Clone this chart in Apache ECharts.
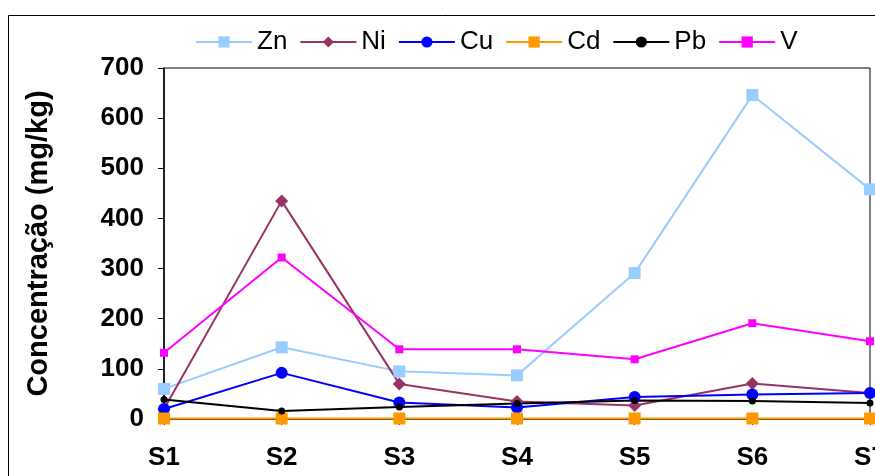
<!DOCTYPE html>
<html>
<head>
<meta charset="utf-8">
<script src="https://cdn.jsdelivr.net/npm/echarts@6/dist/echarts.min.js"></script>
<style>
html,body{margin:0;padding:0;background:#fff;}
#chart{width:875px;height:476px;}
</style>
</head>
<body>
<div id="chart"></div>
<script>
const categories = ['S1','S2','S3','S4','S5','S6','S7'];
const zn = [60, 143, 95, 87, 291, 646, 458];
const ni = [20, 435, 70, 35, 27, 71, 52];
const cu = [20, 92, 33, 23, 44, 49, 52];
const cd = [1, 1, 1, 1, 1, 1, 1];
const pb = [39, 16, 24, 31, 37, 36, 32];
const v = [132, 322, 139, 139, 119, 191, 155];
const yTicks = [0, 700, 100];
const yTitle = 'Concentração (mg/kg)';

const FONT = '"Liberation Sans", Arial, sans-serif';

function mk(name, data, color, symbol, size) {
  return {
    name: name, type: 'line', data: data,
    symbol: symbol, symbolSize: size,
    lineStyle: {color: color, width: 2},
    itemStyle: {color: color},
    emphasis: {disabled: true},
    animation: false
  };
}

const chart = echarts.init(document.getElementById('chart'), null, {renderer: 'canvas'});
chart.setOption({
  backgroundColor: '#fff',
  animation: false,
  textStyle: {fontFamily: FONT},
  graphic: [{
    type: 'rect', silent: true, z: -1,
    shape: {x: 8.5, y: 15.5, width: 900, height: 500},
    style: {fill: 'none', stroke: '#000', lineWidth: 1}
  }],
  legend: {
    left: 190, top: 24,
    itemWidth: 56, itemHeight: 14, itemGap: 12,
    textStyle: {fontSize: 26, color: '#000', fontFamily: FONT},
    data: ['Zn','Ni','Cu','Cd','Pb','V']
  },
  grid: {left: 164, right: 5, top: 68, bottom: 57, outerBoundsMode: 'none', containLabel: false,
         show: true, borderColor: '#000', borderWidth: 1, backgroundColor: 'transparent'},
  xAxis: {
    type: 'category', data: categories, boundaryGap: false,
    axisLine: {lineStyle: {color: '#000', width: 1.5}},
    axisTick: {show: true, length: 6, lineStyle: {color: '#000'}},
    axisLabel: {fontSize: 26, fontWeight: 'bold', color: '#000', margin: 26, fontFamily: FONT}
  },
  yAxis: {
    type: 'value', min: yTicks[0], max: yTicks[1], interval: yTicks[2],
    name: yTitle, nameLocation: 'middle', nameGap: 111,
    nameTextStyle: {fontSize: 29, fontWeight: 'bold', color: '#000', fontFamily: FONT},
    splitLine: {show: false},
    axisLine: {show: true, lineStyle: {color: '#000', width: 1.5}},
    axisTick: {show: true, length: 6, lineStyle: {color: '#000'}},
    axisLabel: {fontSize: 26, fontWeight: 'bold', color: '#000', margin: 20, fontFamily: FONT}
  },
  series: [
    mk('Zn', zn, '#99CCFF', 'rect', 12),
    mk('Ni', ni, '#993366', 'diamond', 13),
    mk('Cu', cu, '#0000FF', 'circle', 12),
    mk('Cd', cd, '#FF9900', 'rect', 12),
    mk('Pb', pb, '#000000', 'circle', 7),
    mk('V', v, '#FF00FF', 'rect', 8)
  ]
});
</script>
</body>
</html>
